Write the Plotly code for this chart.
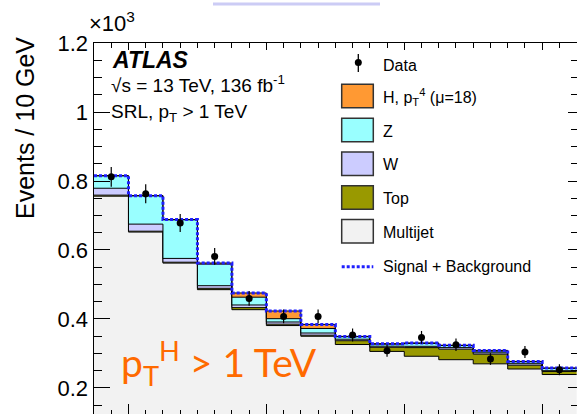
import plotly.graph_objects as go

# ---------------- data (x10^3 events / 10 GeV) ----------------
edges = [70, 80, 90, 100, 110, 120, 130, 140, 150, 160, 170, 180, 190, 200, 210]
multijet = [0.756, 0.652, 0.562, 0.485, 0.427, 0.381, 0.350, 0.326, 0.306, 0.292, 0.282, 0.270, 0.255, 0.239]
top = [0.003, 0.0025, 0.0026, 0.004, 0.006, 0.004, 0.003, 0.011, 0.012, 0.025, 0.0305, 0.028, 0.011, 0.009]
wjets = [0.020, 0.0205, 0.011, 0.0075, 0.0076, 0.0063, 0.0064, 0.0044, 0.0032, 0.0038, 0.0045, 0.004, 0.0044, 0.0021]
zjets = [0.036, 0.082, 0.112, 0.0625, 0.0226, 0.0096, 0.0131, 0.0073, 0.0058, 0.0084, 0.006, 0.0047, 0.0056, 0.0069]
higgs = [0.0004, 0.0005, 0.0005, 0.0033, 0.0122, 0.0223, 0.0118, 0.0009, 0.0014, 0.0014, 0.001, 0.0023, 0.001, 0.001]
data = [0.812, 0.763, 0.678, 0.5815, 0.4597, 0.4075, 0.4075, 0.3536, 0.3081, 0.3467, 0.3255, 0.284, 0.3043, 0.253]
data_err = [0.0285, 0.0276, 0.026, 0.0241, 0.0214, 0.0202, 0.0202, 0.0188, 0.0176, 0.0186, 0.018, 0.0169, 0.0174, 0.0159]

ytickvals = [0.2, 0.4, 0.6, 0.8, 1.0, 1.2]
yticktext = ["0.2", "0.4", "0.6", "0.8", "1", "1.2"]

# ---------------- styles ----------------
C_MJ = "#f2f2f2"
C_TOP = "#999900"
C_W = "#ccccff"
C_Z = "#99ffff"
C_H = "#ff9933"
C_SB = "#1f1fff"
FONT = "Liberation Sans, Arial, Helvetica, sans-serif"

W_PX, H_PX = 577, 414
L, R, T, B = 94, 0, 43, 0
PW, PH = W_PX - L - R, H_PX - T - B


def px(x):
    return (x - L) / PW


def py(y):
    return (H_PX - B - y) / PH


centers = [(edges[i] + edges[i + 1]) / 2 for i in range(len(edges) - 1)]

layers = [("Multijet", multijet, C_MJ), ("Top", top, C_TOP), ("W", wjets, C_W),
          ("Z", zjets, C_Z), ("H", higgs, C_H)]

fig = go.Figure()
cum = [0.0] * len(multijet)
for i, (name, vals, col) in enumerate(layers):
    cum = [c + v for c, v in zip(cum, vals)]
    fig.add_trace(go.Scatter(
        x=edges, y=cum + [cum[-1]], mode="lines", line=dict(shape="hv", color="black", width=1),
        fill="tozeroy" if i == 0 else "tonexty", fillcolor=col, name=name, showlegend=False,
        hoverinfo="skip"))

total = cum
fig.add_trace(go.Scatter(
    x=edges, y=total + [total[-1]], mode="lines",
    line=dict(shape="hv", color=C_SB, width=3, dash="3px,2px"), showlegend=False, hoverinfo="skip"))

fig.add_trace(go.Scatter(
    x=centers, y=data, mode="markers", marker=dict(color="black", size=7),
    error_y=dict(type="data", array=data_err, color="black", thickness=1.2, width=0),
    showlegend=False))

# dummy trace for mirror axes
fig.add_trace(go.Scatter(x=[None], y=[None], xaxis="x2", yaxis="y2", showlegend=False))

shapes = []
annotations = []


def ann(text, x, y, size, color="black", xanchor="left", yanchor="middle", family=FONT, **kw):
    annotations.append(dict(text=text, x=px(x), y=py(y), xref="paper", yref="paper",
                            xanchor=xanchor, yanchor=yanchor, showarrow=False,
                            font=dict(size=size, color=color, family=family), **kw))


# legend
box_x0, box_x1 = 341.7, 373.3
leg_items = [("H, p<sub>T</sub><sup>4</sup> (\u03bc=18)", C_H, 96.0),
             ("Z", C_Z, 130.0), ("W", C_W, 163.7), ("Top", C_TOP, 197.5), ("Multijet", C_MJ, 231.3)]
for text, col, yc in leg_items:
    shapes.append(dict(type="rect", xref="paper", yref="paper", x0=px(box_x0), x1=px(box_x1),
                       y0=py(yc + 11.7), y1=py(yc - 11.7), fillcolor=col,
                       line=dict(color="#333333", width=1.5), layer="above"))
    ann(text, 381, yc + 1, 16)

# data legend marker
shapes.append(dict(type="line", xref="paper", yref="paper", x0=px(358.3), x1=px(358.3),
                   y0=py(54), y1=py(72), line=dict(color="black", width=1.3), layer="above"))
shapes.append(dict(type="circle", xref="paper", yref="paper", x0=px(354.8), x1=px(361.8),
                   y0=py(66), y1=py(59), fillcolor="black", line=dict(color="black", width=0),
                   layer="above"))
ann("Data", 381, 65, 16)

# signal + background legend line
shapes.append(dict(type="line", xref="paper", yref="paper", x0=px(box_x0), x1=px(box_x1),
                   y0=py(266.7), y1=py(266.7), line=dict(color=C_SB, width=3, dash="3px,2px"),
                   layer="above"))
ann("Signal + Background", 381, 266.7, 16)

# labels
ann("<b><i>ATLAS</i></b>", 110, 60, 23)
ann("\u221As = 13 TeV, 136 fb<sup>-1</sup>", 109, 84, 19)
ann("SRL, p<sub>T</sub> > 1 TeV", 109, 113, 19)
ann("\u00d710<sup>3</sup>", 87, 22, 22)
ann("Events / 10 GeV", 25, 128, 25, xanchor="center", textangle=-90)
ann("p<sub>T</sub><sup>H</sup> > 1 TeV", 119, 363, 39, color="#ff6a00", family="Lato, Open Sans, sans-serif")

# cropped artifact at top
shapes.append(dict(type="rect", xref="paper", yref="paper", x0=px(213), x1=px(380),
                   y0=py(5.5), y1=py(2.5), fillcolor="#ccccf5", line=dict(width=0), layer="above"))

fig.update_layout(
    width=W_PX, height=H_PX,
    margin=dict(l=L, r=R, t=T, b=B, pad=0, autoexpand=False),
    paper_bgcolor="white", plot_bgcolor="white",
    showlegend=False,
    shapes=shapes, annotations=annotations,
    xaxis=dict(range=[70, 210.1], showticklabels=False, ticks="inside", tick0=80, dtick=40,
               ticklen=10, tickwidth=1, tickcolor="black", showline=False, showgrid=False,
               zeroline=False,
               minor=dict(ticks="inside", tick0=70, dtick=5, ticklen=4, tickwidth=1,
                          tickcolor="black", showgrid=False)),
    xaxis2=dict(range=[70, 210.1], overlaying="x", side="top", anchor="y", showticklabels=False,
                ticks="inside", tick0=80, dtick=40, ticklen=7, tickwidth=1, tickcolor="black",
                showline=True, linewidth=1.5, linecolor="black", showgrid=False, zeroline=False,
                minor=dict(ticks="inside", tick0=70, dtick=5, ticklen=5, tickwidth=1,
                           tickcolor="black", showgrid=False)),
    yaxis=dict(range=[0.1246, 1.2], tickvals=ytickvals, ticktext=yticktext, ticks="inside",
               ticklen=16, tickwidth=1, tickcolor="black", showline=True, linewidth=1.5,
               linecolor="black", showgrid=False, zeroline=False,
               tickfont=dict(size=22, family=FONT, color="black"),
               minor=dict(ticks="inside", tick0=0, dtick=0.05, ticklen=8, tickwidth=1,
                          tickcolor="black", showgrid=False)),
    yaxis2=dict(range=[0.1246, 1.2], overlaying="y", side="right", anchor="x",
                showticklabels=False, tickvals=ytickvals, ticks="inside", ticklen=9, tickwidth=1,
                tickcolor="black", showline=False, showgrid=False, zeroline=False,
                minor=dict(ticks="inside", tick0=0, dtick=0.05, ticklen=6, tickwidth=1,
                           tickcolor="black", showgrid=False)),
)

fig.write_html("out.html",
               config={"displayModeBar": False, "staticPlot": True},
               post_script="document.body.style.margin='0';document.body.style.padding='0';"
                           "document.body.style.overflow='hidden';")
